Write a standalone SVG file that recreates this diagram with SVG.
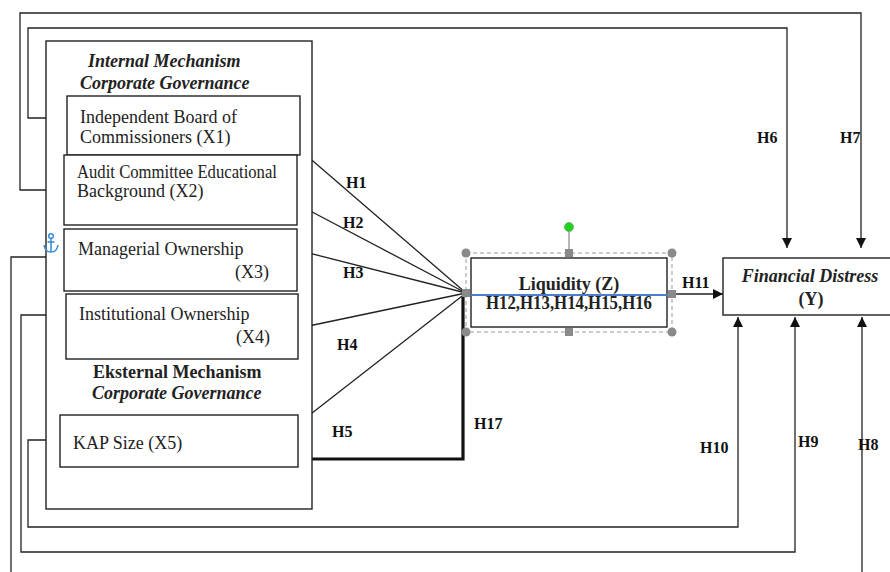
<svg xmlns="http://www.w3.org/2000/svg" width="890" height="572" viewBox="0 0 890 572">
<defs>
<marker id="ah" markerUnits="userSpaceOnUse" markerWidth="11" markerHeight="10" refX="10" refY="5" orient="auto">
<path d="M0,0 L10,5 L0,10 z" fill="#111"/>
</marker>
<style>
.box{fill:#fff;stroke:#222;stroke-width:1.4}
.ln{fill:none;stroke:#222;stroke-width:1.3}
.t{font-family:"Liberation Serif","Times New Roman",serif;font-size:18px;fill:#222}
.b{font-weight:bold}
.i{font-style:italic}
.h{font-family:"Liberation Serif","Times New Roman",serif;font-size:16px;font-weight:bold;fill:#111}
.hd{fill:#8a8a8a}
</style>
</defs>
<rect width="890" height="572" fill="#fff"/>

<g id="connectors">
<path class="ln" d="M46,190 H20 V13 H861 V248" marker-end="url(#ah)"/>
<path class="ln" d="M46,118 H28 V28 H787 V248" marker-end="url(#ah)"/>
<path class="ln" d="M46,257 H11 V580 H862 V317" marker-end="url(#ah)"/>
<path class="ln" d="M46,315 H21 V552 H795 V317" marker-end="url(#ah)"/>
<path class="ln" d="M46,440 H28 V527 H738 V317" marker-end="url(#ah)"/>
<path class="ln" d="M299,149 L466,293"/>
<path class="ln" d="M297,204 L466,293"/>
<path class="ln" d="M297,250 L466,293"/>
<path class="ln" d="M299,328 L466,293"/>
<path class="ln" d="M298,424 L466,293"/>
<path fill="none" stroke="#111" stroke-width="3.2" d="M312,459 H463 V296"/>
<path class="ln" d="M672,294 H723" marker-end="url(#ah)"/>
</g>

<g id="governance">
<rect class="box" x="46" y="41" width="266" height="468"/>
<text class="t b i" x="88" y="67">Internal Mechanism</text>
<text class="t b i" x="80" y="89">Corporate Governance</text>
<text class="t b" x="93" y="378">Eksternal Mechanism</text>
<text class="t b i" x="92" y="399">Corporate Governance</text>
</g>

<g id="x1">
<rect class="box" x="67" y="96" width="233" height="59"/>
<text class="t" x="80" y="123">Independent Board of</text>
<text class="t" x="80" y="143">Commissioners (X1)</text>
</g>
<g id="x2">
<rect class="box" x="64" y="155" width="233" height="70"/>
<text class="t" x="77" y="178" textLength="200" lengthAdjust="spacingAndGlyphs">Audit Committee Educational</text>
<text class="t" x="77" y="197">Background (X2)</text>
</g>
<g id="x3">
<rect class="box" x="64" y="229" width="233" height="62"/>
<text class="t" x="78" y="255">Managerial Ownership</text>
<text class="t" x="235" y="278">(X3)</text>
</g>
<g id="x4">
<rect class="box" x="66" y="294" width="232" height="65"/>
<text class="t" x="79" y="320">Institutional Ownership</text>
<text class="t" x="236" y="343">(X4)</text>
</g>
<g id="x5">
<rect class="box" x="60" y="415" width="238" height="52"/>
<text class="t" x="73" y="449">KAP Size (X5)</text>
</g>

<g id="liquidity">
<rect class="box" x="471" y="258" width="196" height="69"/>
<line x1="471" y1="295" x2="672" y2="295" stroke="#4a7fd0" stroke-width="2.2"/>
<text class="t b" x="569" y="290" text-anchor="middle">Liquidity (Z)</text>
<text class="t b" x="569" y="309" text-anchor="middle" font-size="17" textLength="166" lengthAdjust="spacingAndGlyphs">H12,H13,H14,H15,H16</text>
<rect x="466" y="253" width="206" height="79" fill="none" stroke="#999" stroke-width="1" stroke-dasharray="4,3"/>
<line x1="569" y1="227" x2="569" y2="253" stroke="#888" stroke-width="1.2"/>
<circle cx="569" cy="227" r="4.5" fill="#1ed31e" stroke="#6a6" stroke-width="0.8"/>
<circle class="hd" cx="466" cy="253" r="4.5"/>
<circle class="hd" cx="672" cy="253" r="4.5"/>
<circle class="hd" cx="466" cy="332" r="4.5"/>
<circle class="hd" cx="672" cy="332" r="4.5"/>
<rect class="hd" x="565" y="249" width="8" height="8"/>
<rect class="hd" x="565" y="328" width="8" height="8"/>
<rect class="hd" x="462" y="289" width="8" height="8"/>
<rect class="hd" x="668" y="290" width="8" height="8"/>
</g>

<g id="financial-distress">
<rect class="box" x="723" y="258" width="175" height="57"/>
<text class="t b i" x="810" y="282" text-anchor="middle">Financial Distress</text>
<text class="t b" x="811" y="305" text-anchor="middle">(Y)</text>
</g>

<g id="anchor" fill="none" stroke="#3b8fdc" stroke-width="1.6">
<circle cx="51" cy="236" r="2.3"/>
<line x1="51" y1="238.5" x2="51" y2="252"/>
<path d="M44,245 Q45,252 51,252 Q57,252 58,245"/>
<line x1="47.5" y1="242" x2="54.5" y2="242"/>
</g>

<g id="labels">
<text class="h" x="346" y="188">H1</text>
<text class="h" x="343" y="228">H2</text>
<text class="h" x="343" y="278">H3</text>
<text class="h" x="337" y="350">H4</text>
<text class="h" x="332" y="437">H5</text>
<text class="h" x="757" y="143">H6</text>
<text class="h" x="840" y="143">H7</text>
<text class="h" x="858" y="450">H8</text>
<text class="h" x="798" y="447">H9</text>
<text class="h" x="700" y="453">H10</text>
<text class="h" x="682" y="288">H11</text>
<text class="h" x="474" y="429">H17</text>
</g>
</svg>
